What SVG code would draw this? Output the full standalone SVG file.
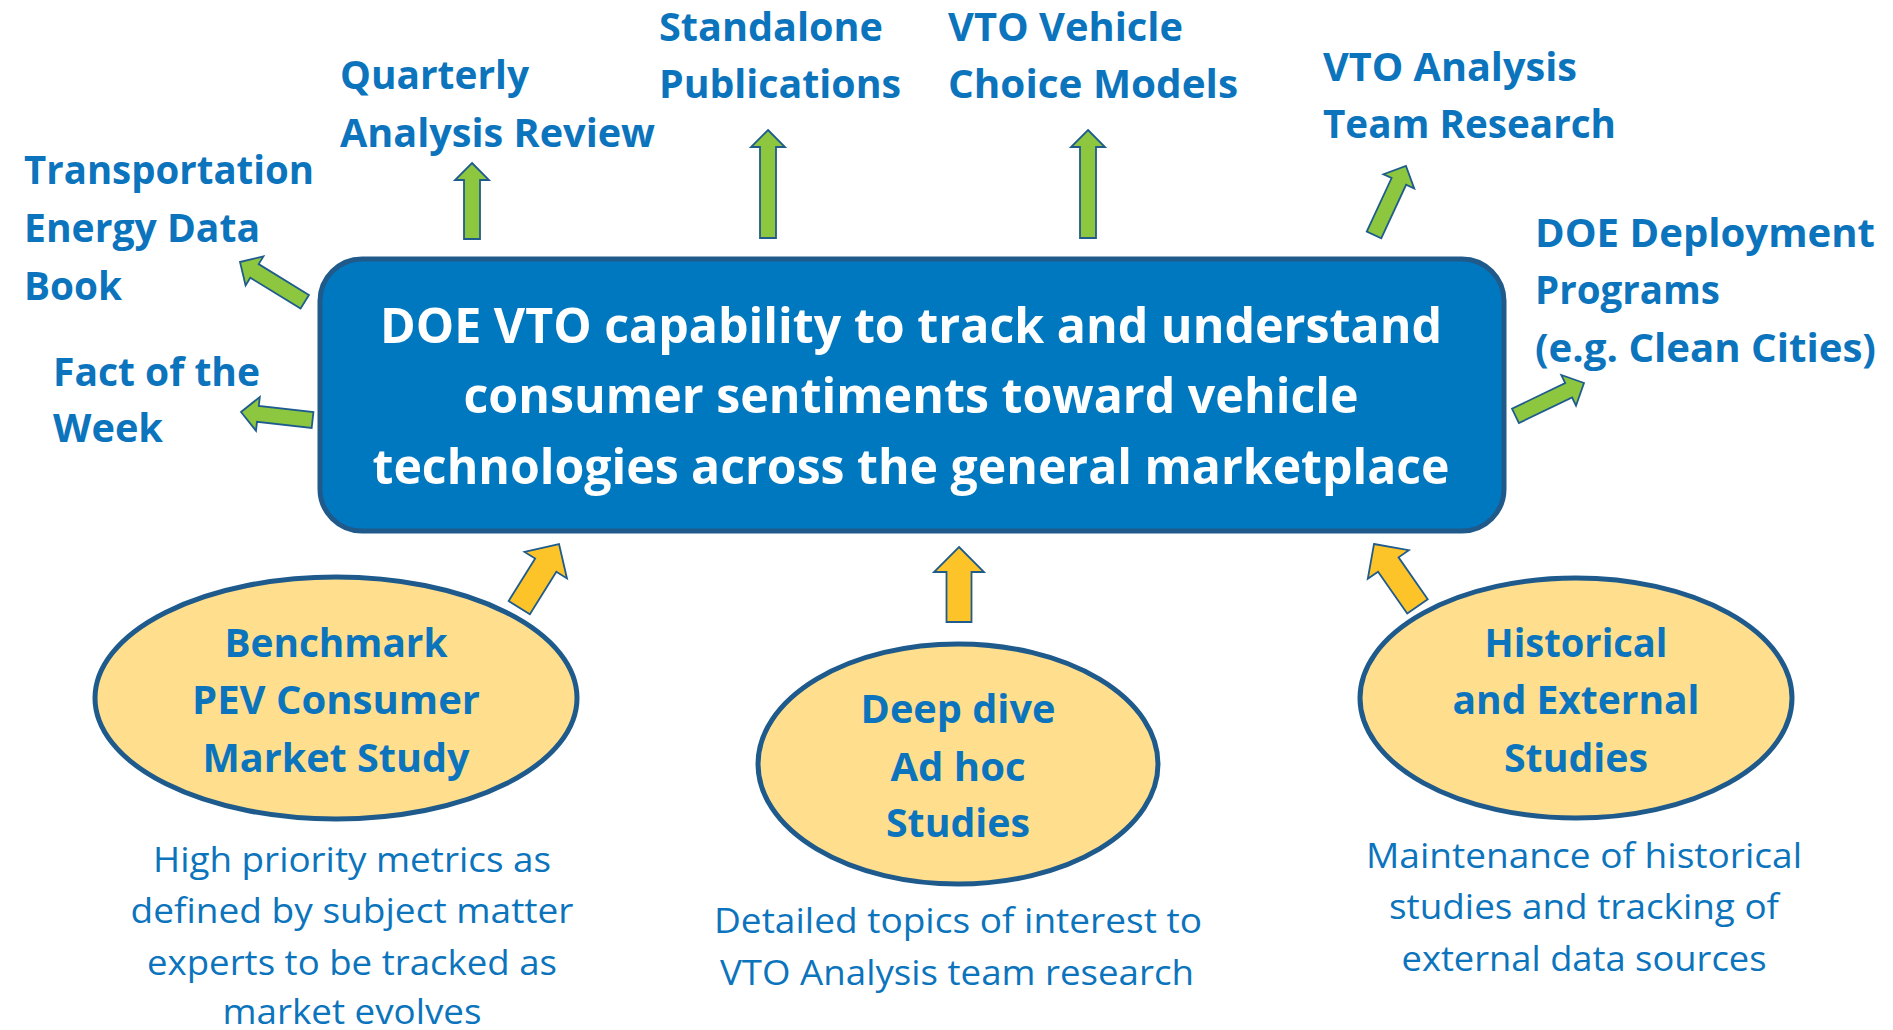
<svg xmlns="http://www.w3.org/2000/svg" width="1893" height="1030" viewBox="0 0 1893 1030">
  <style>
    .lbl { font-family: "Open Sans", "Noto Sans", "Liberation Sans", sans-serif; font-weight: 700; font-size: 39px; fill: #0B74BC; }
    .main { font-family: "Open Sans", "Noto Sans", "Liberation Sans", sans-serif; font-weight: 700; font-size: 49px; fill: #FFFFFF; text-anchor: middle; }
    .oval { font-family: "Open Sans", "Noto Sans", "Liberation Sans", sans-serif; font-weight: 700; font-size: 40px; fill: #0B74BC; text-anchor: middle; }
    .desc { font-family: "Open Sans", "Noto Sans", "Liberation Sans", sans-serif; font-weight: 400; font-size: 34px; fill: #0B74BC; text-anchor: middle; }
    .core { fill: #0078C0; stroke: #1F5A8A; stroke-width: 5; }
    .study { fill: #FFDF8E; stroke: #1E5B8C; stroke-width: 5; }
    .out { fill: #8DC63F; stroke: #1F5C8D; stroke-width: 1.8; stroke-linejoin: miter; }
    .in { fill: #FDC42A; stroke: #1F5C8D; stroke-width: 1.8; stroke-linejoin: miter; }
  </style>

  <!-- arrows: each polygon points "up" with its tip at the origin -->
  <g id="connectors">
    <!-- outputs (green) -->
    <polygon class="out" transform="translate(240,262) rotate(-58.4)" points="0,0 17,17 8,17 8,76 -8,76 -8,17 -17,17"/>
    <polygon class="out" transform="translate(241,412) rotate(-83.6)" points="0,0 17,17 8,17 8,72 -8,72 -8,17 -17,17"/>
    <polygon class="out" transform="translate(472,163)" points="0,0 17,17 8,17 8,76 -8,76 -8,17 -17,17"/>
    <polygon class="out" transform="translate(768,130)" points="0,0 17,17 8,17 8,108 -8,108 -8,17 -17,17"/>
    <polygon class="out" transform="translate(1088,130)" points="0,0 17,17 8,17 8,108 -8,108 -8,17 -17,17"/>
    <polygon class="out" transform="translate(1406,166) rotate(24.9)" points="0,0 17,17 8,17 8,76 -8,76 -8,17 -17,17"/>
    <polygon class="out" transform="translate(1584,383) rotate(64.4)" points="0,0 17,17 8,17 8,76 -8,76 -8,17 -17,17"/>
    <!-- inputs (yellow) -->
    <polygon class="in" transform="translate(559,544) rotate(32)" points="0,0 25,25 12.5,25 12.5,75 -12.5,75 -12.5,25 -25,25"/>
    <polygon class="in" transform="translate(959,547)" points="0,0 25,25 12.5,25 12.5,75 -12.5,75 -12.5,25 -25,25"/>
    <polygon class="in" transform="translate(1374,544) rotate(-34.9)" points="0,0 25,25 12.5,25 12.5,76 -12.5,76 -12.5,25 -25,25"/>
  </g>

  <!-- central capability box -->
  <g id="capability">
    <rect class="core" x="320" y="259" width="1184" height="272" rx="42" ry="42"/>
    <text class="main" x="911" y="343" textLength="1062" lengthAdjust="spacingAndGlyphs">DOE VTO capability to track and understand</text>
    <text class="main" x="911" y="413" textLength="895" lengthAdjust="spacingAndGlyphs">consumer sentiments toward vehicle</text>
    <text class="main" x="911" y="484" textLength="1077" lengthAdjust="spacingAndGlyphs">technologies across the general marketplace</text>
  </g>

  <!-- output products -->
  <g id="tedb">
    <text class="lbl" x="24" y="184" textLength="290" lengthAdjust="spacingAndGlyphs">Transportation</text>
    <text class="lbl" x="24" y="242" textLength="236" lengthAdjust="spacingAndGlyphs">Energy Data</text>
    <text class="lbl" x="24" y="300" textLength="98" lengthAdjust="spacingAndGlyphs">Book</text>
  </g>
  <g id="fact-of-the-week">
    <text class="lbl" x="53" y="386" textLength="207" lengthAdjust="spacingAndGlyphs">Fact of the</text>
    <text class="lbl" x="53" y="442" textLength="110" lengthAdjust="spacingAndGlyphs">Week</text>
  </g>
  <g id="quarterly-review">
    <text class="lbl" x="340" y="89" textLength="189" lengthAdjust="spacingAndGlyphs">Quarterly</text>
    <text class="lbl" x="340" y="147" textLength="315" lengthAdjust="spacingAndGlyphs">Analysis Review</text>
  </g>
  <g id="standalone-publications">
    <text class="lbl" x="659" y="41" textLength="224" lengthAdjust="spacingAndGlyphs">Standalone</text>
    <text class="lbl" x="659" y="98" textLength="242" lengthAdjust="spacingAndGlyphs">Publications</text>
  </g>
  <g id="choice-models">
    <text class="lbl" x="948" y="41" textLength="235" lengthAdjust="spacingAndGlyphs">VTO Vehicle</text>
    <text class="lbl" x="948" y="98" textLength="290" lengthAdjust="spacingAndGlyphs">Choice Models</text>
  </g>
  <g id="team-research">
    <text class="lbl" x="1323" y="81" textLength="254" lengthAdjust="spacingAndGlyphs">VTO Analysis</text>
    <text class="lbl" x="1323" y="138" textLength="293" lengthAdjust="spacingAndGlyphs">Team Research</text>
  </g>
  <g id="deployment-programs">
    <text class="lbl" x="1535" y="247" textLength="340" lengthAdjust="spacingAndGlyphs">DOE Deployment</text>
    <text class="lbl" x="1535" y="304" textLength="185" lengthAdjust="spacingAndGlyphs">Programs</text>
    <text class="lbl" x="1535" y="362" textLength="341" lengthAdjust="spacingAndGlyphs">(e.g. Clean Cities)</text>
  </g>

  <!-- input studies -->
  <g id="benchmark-study">
    <ellipse class="study" cx="336" cy="698" rx="241" ry="121"/>
    <text class="oval" x="336" y="657" textLength="223" lengthAdjust="spacingAndGlyphs">Benchmark</text>
    <text class="oval" x="336" y="714" textLength="288" lengthAdjust="spacingAndGlyphs">PEV Consumer</text>
    <text class="oval" x="336" y="772" textLength="267" lengthAdjust="spacingAndGlyphs">Market Study</text>
    <text class="desc" x="352" y="872" textLength="398" lengthAdjust="spacingAndGlyphs">High priority metrics as</text>
    <text class="desc" x="352" y="923" textLength="443" lengthAdjust="spacingAndGlyphs">defined by subject matter</text>
    <text class="desc" x="352" y="975" textLength="410" lengthAdjust="spacingAndGlyphs">experts to be tracked as</text>
    <text class="desc" x="352" y="1024" textLength="259" lengthAdjust="spacingAndGlyphs">market evolves</text>
  </g>
  <g id="deep-dive-studies">
    <ellipse class="study" cx="958" cy="764" rx="200" ry="120"/>
    <text class="oval" x="958" y="723" textLength="195" lengthAdjust="spacingAndGlyphs">Deep dive</text>
    <text class="oval" x="958" y="781" textLength="135" lengthAdjust="spacingAndGlyphs">Ad hoc</text>
    <text class="oval" x="958" y="837" textLength="144" lengthAdjust="spacingAndGlyphs">Studies</text>
    <text class="desc" x="958" y="933" textLength="488" lengthAdjust="spacingAndGlyphs">Detailed topics of interest to</text>
    <text class="desc" x="957" y="985" textLength="474" lengthAdjust="spacingAndGlyphs">VTO Analysis team research</text>
  </g>
  <g id="historical-studies">
    <ellipse class="study" cx="1576" cy="698" rx="216" ry="120"/>
    <text class="oval" x="1576" y="657" textLength="183" lengthAdjust="spacingAndGlyphs">Historical</text>
    <text class="oval" x="1576" y="714" textLength="247" lengthAdjust="spacingAndGlyphs">and External</text>
    <text class="oval" x="1576" y="772" textLength="144" lengthAdjust="spacingAndGlyphs">Studies</text>
    <text class="desc" x="1584" y="868" textLength="436" lengthAdjust="spacingAndGlyphs">Maintenance of historical</text>
    <text class="desc" x="1584" y="919" textLength="390" lengthAdjust="spacingAndGlyphs">studies and tracking of</text>
    <text class="desc" x="1584" y="971" textLength="365" lengthAdjust="spacingAndGlyphs">external data sources</text>
  </g>
</svg>
